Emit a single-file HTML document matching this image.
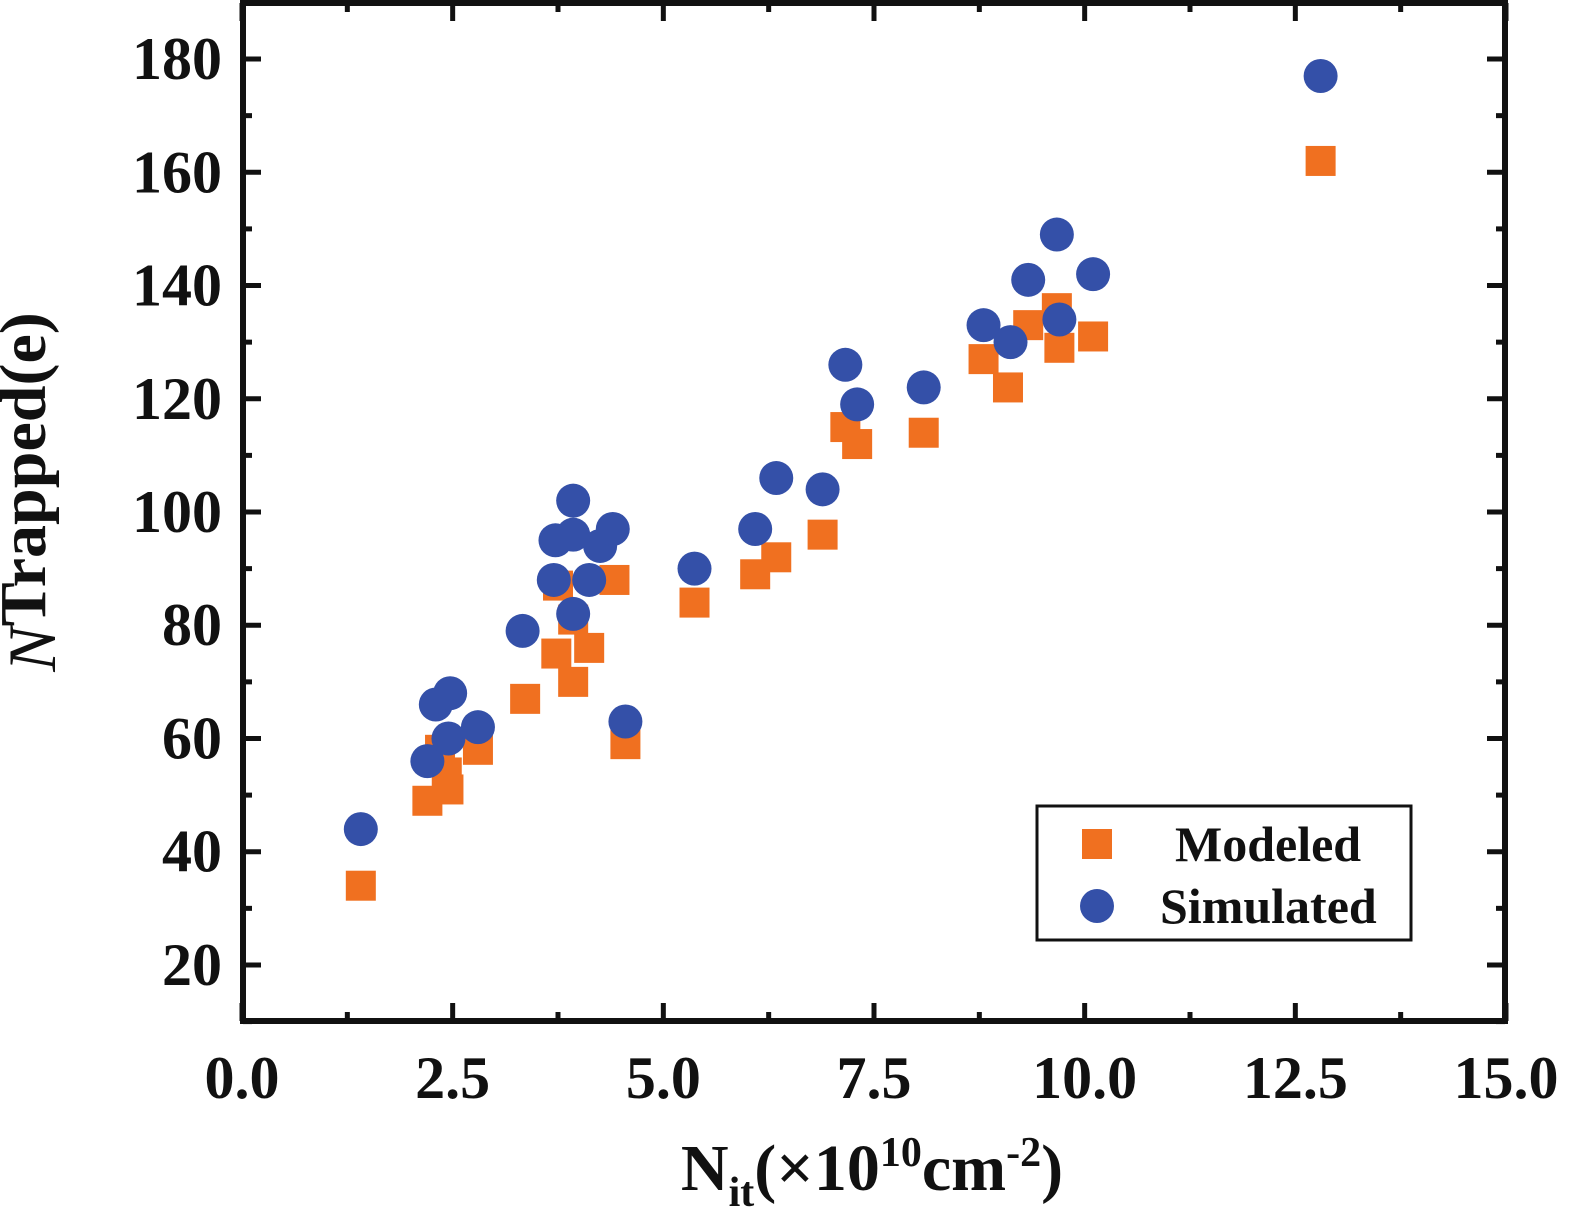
<!DOCTYPE html>
<html><head><meta charset="utf-8"><style>
html,body{margin:0;padding:0;background:#fff;}
svg{display:block;}
text{font-family:"Liberation Serif",serif;font-weight:bold;fill:#111;}
</style></head><body>
<svg id="chart" width="1575" height="1225" xmlns="http://www.w3.org/2000/svg">
<g id="ticks"></g>
<g id="marks"></g>
<rect x="243" y="3" width="1262" height="1018" fill="none" stroke="#111" stroke-width="6"/>
<text x="55" y="492" font-size="68" text-anchor="middle" transform="rotate(-90 55 492)"><tspan font-style="italic" font-weight="normal">N</tspan><tspan dy="-10" font-size="66">Trapped(e)</tspan></text>
<text x="872" y="1190" font-size="66" text-anchor="middle">N<tspan font-size="42" dy="16">it</tspan><tspan dy="-16">(×10</tspan><tspan font-size="42" dy="-24">10</tspan><tspan dy="24">cm</tspan><tspan font-size="42" dy="-24">-2</tspan><tspan dy="24">)</tspan></text>
<g>
<rect x="1037" y="806" width="374" height="134" fill="#fff" stroke="#111" stroke-width="3"/>
<rect x="1082" y="829" width="30" height="30" fill="#f07020"/>
<text x="1175" y="861" font-size="50">Modeled</text>
<circle cx="1097" cy="906" r="17" fill="#3450a8"/>
<text x="1160" y="923" font-size="50">Simulated</text>
</g>
</svg>
<script>
const xTicks=[0,2.5,5,7.5,10,12.5,15];
const xTickLabels=["0.0","2.5","5.0","7.5","10.0","12.5","15.0"];
const yTicks=[20,40,60,80,100,120,140,160,180];
const yTickLabels=["20","40","60","80","100","120","140","160","180"];
const modeledX=[1.41,2.2,2.45,2.43,2.35,2.8,3.36,3.73,3.93,4.12,3.93,3.75,4.42,4.55,5.37,6.09,6.34,6.89,7.16,7.3,8.09,8.8,9.09,9.33,9.67,9.7,10.1,12.8];
const modeledY=[34,49,51,54,58,58,67,75,70,76,81,87,88,59,84,89,92,96,115,112,114,127,122,133,136,129,131,162];
const simulatedX=[1.41,2.2,2.3,2.47,2.45,2.8,3.33,3.7,3.93,4.12,3.72,3.93,3.93,4.25,4.4,4.55,5.37,6.09,6.34,6.89,7.16,7.3,8.09,8.8,9.12,9.33,9.67,9.7,10.1,12.8];
const simulatedY=[44,56,66,68,60,62,79,88,82,88,95,102,96,94,97,63,90,97,106,104,126,119,122,133,130,141,149,134,142,177];
const X0=242,X1=1506,XMIN=0,XMAX=15,Y0=1021.6,Y1=2.4,YMIN=10,YMAX=190;
const sx=v=>X0+(v-XMIN)/(XMAX-XMIN)*(X1-X0);
const sy=v=>Y0-(v-YMIN)/(YMAX-YMIN)*(Y0-Y1);
const NS="http://www.w3.org/2000/svg";
const tg=document.getElementById('ticks'),mg=document.getElementById('marks');
function mk(tag,attrs,parent){const e=document.createElementNS(NS,tag);for(const k in attrs)e.setAttribute(k,attrs[k]);parent.appendChild(e);return e;}
for(let v=1.25;v<15;v+=2.5){
 const a=mk('line',{x1:sx(v),x2:sx(v),y1:1021,y2:1012,stroke:'#111','stroke-width':5},tg);
 
 
 const b=mk('line',{x1:sx(v),x2:sx(v),y1:3,y2:12,stroke:'#111','stroke-width':5},tg);
 
 
}
for(let v=10;v<=190;v+=20){
 const a=mk('line',{x1:243,x2:252,y1:sy(v),y2:sy(v),stroke:'#111','stroke-width':5},tg);
 
 
 const b=mk('line',{x1:1505,x2:1496,y1:sy(v),y2:sy(v),stroke:'#111','stroke-width':5},tg);
 
 
}
xTicks.forEach((v,i)=>{
 const a=mk('line',{x1:sx(v),x2:sx(v),y1:1021,y2:1003,stroke:'#111','stroke-width':5},tg);
 
 
 const b=mk('line',{x1:sx(v),x2:sx(v),y1:3,y2:21,stroke:'#111','stroke-width':5},tg);
 
 
 const t=mk('text',{x:sx(v),y:1098,'font-size':60,'text-anchor':'middle'},tg);
 t.textContent=xTickLabels[i];
 
 
});
yTicks.forEach((v,i)=>{
 const a=mk('line',{x1:243,x2:261,y1:sy(v),y2:sy(v),stroke:'#111','stroke-width':5},tg);
 
 
 const b=mk('line',{x1:1505,x2:1487,y1:sy(v),y2:sy(v),stroke:'#111','stroke-width':5},tg);
 
 
 const t=mk('text',{x:222,y:sy(v)+20,'font-size':60,'text-anchor':'end'},tg);
 t.textContent=yTickLabels[i];
 
 
});
modeledX.forEach((v,i)=>{
 const r=mk('rect',{x:sx(v)-15,y:sy(modeledY[i])-15,width:30,height:30,fill:'#f07020'},mg);
 
 
});
simulatedX.forEach((v,i)=>{
 const c=mk('circle',{cx:sx(v),cy:sy(simulatedY[i]),r:17,fill:'#3450a8'},mg);
 
 
});
</script>
</body></html>
